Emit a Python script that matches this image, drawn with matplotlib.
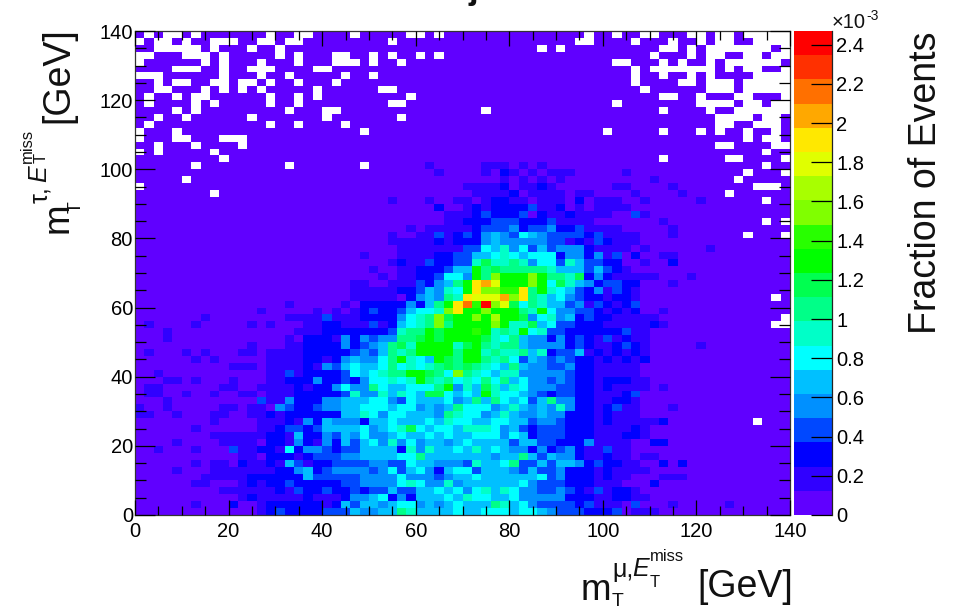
import numpy as np
import matplotlib
matplotlib.use('Agg')
import matplotlib.pyplot as plt
from matplotlib.colors import ListedColormap, BoundaryNorm

plt.rcParams['font.family'] = ['Liberation Sans', 'DejaVu Sans']

# colour band of every bin, top row (y=140) first, 0-9 then a-j, in groups of 10 bins
zero = '0000000000 ' * 7
band_rows = [zero] * 19 + [
    '0000000000 0000000000 0000000000 0100000111 0101000000 0000000000 0000000000',
    '0000000000 0000000000 0000000000 0010000102 1010111000 0010000000 0000000000',
    '0000000000 0000000000 0000000000 0000000001 0101010000 0000010000 0000000000',
    '0000000000 0000000000 0000000000 0000011112 0112100000 0110000100 0000000000',
    '0000000000 0000000000 0000000000 0000001111 2011110110 0001000010 0000000000',
    '0000000000 0000000000 0000000100 0100110122 1101110201 1100100000 1000000000',
    '0000000000 0000000000 0000000000 0020012122 2231120101 1110000000 0000000000',
    '0000000000 0000000000 0000000000 0001112322 2302112111 1003100000 0000000000',
    '0000000000 0000000000 0000000000 0001122233 3222311110 0000001000 0000000000',
    '0000000000 0000000000 0000000001 0111112333 4233422311 1100000100 0000000000',
    '0000000000 0000000000 0000000100 1131232454 3654333323 1111000100 0000000000',
    '0000000000 0000000000 0000000111 1121222454 4444331213 2111000000 0000000000',
    '0000000000 0000000000 0000000011 1111133657 4635344421 1110100000 0100000000',
    '0000000000 0000000000 0000100011 1122335567 6566624424 1302001100 0000000000',
    '0000000000 0000000000 0000000121 1322337977 8746637533 2200100200 0000000000',
    '0000000000 0000000000 0000010011 222355a898 8888755535 3210000000 0000000000',
    '0000000000 0000000000 0000001011 223664a8ca aaca887924 2111110001 0000000000',
    '0000000000 0000000000 0001100111 32458afgea aaca697542 3322000100 0000000000',
    '0000000000 0000000000 0001111122 35476afccb bf8a765324 1321000000 0000000000',
    '0000000000 0000000000 0001111102 45487feeeg cf87564322 1221000000 0000000000',
    '0000000000 0000001000 0010222224 258afhbjce 9687553413 2123000000 0000000000',
    '0000000000 0001000001 0101232235 667cfaacaa a87a644332 1212001000 0000000000',
    '0000000100 0000001111 3111222246 78c9aacada a946745232 2111110000 0000000000',
    '0100001000 0010100011 2211131256 78c8aaaaca 7795633222 1111121000 0000000000',
    '0001000000 0000000111 2222222378 8a9aaaba78 7a67332222 2231100000 0000000000',
    '0001000000 0000001022 2142434488 9a9aaaa976 8544242321 3121100000 0000000000',
    '0000000000 0010001122 2242345897 aaaa79a878 8544442321 1232100000 1000000000',
    '0100010100 0110111122 2223435878 aaaa8aa787 7857233512 1212100000 0000000000',
    '0000001010 0000111122 12454468a7 65a98aa878 6354343221 2121200000 0000000000',
    '0000000000 1110111121 4356556867 6789898765 8544334221 1111000000 0000000000',
    '0010000000 0000113122 223656788a a986c87657 7444443221 1111000000 0000000000',
    '0001101000 1000112224 2232466767 a878676868 5644343221 2221100000 0000000000',
    '0110000001 1001111212 2464486556 668a475975 7644433221 2111101000 0000000000',
    '0110010010 0110111222 2237447576 5996565a76 6543233221 1123000000 0000000000',
    '0001000000 0003114222 4455566436 5556458586 5635844221 1221000000 0000000000',
    '1001000001 1011043223 4455666566 4545866645 7545474221 2311000100 0000000000',
    '1100100011 0011212222 2255764665 5548766457 5445442221 2111000000 0000000000',
    '0000000010 0001112142 5444255655 5657665566 5534432221 2111112000 0000000000',
    '0000001000 0001123323 5555645679 6566577764 5323332221 1112100000 0000000000',
    '0000000011 1111221522 4354644565 5656556664 6523332221 1122100000 0000000000',
    '0000100001 1110221421 4253564746 4554565555 3553322241 1110022000 0000000000',
    '0010001000 3112216244 3233555527 4755657565 4424234211 3110000000 0000000000',
    '0000000000 0110222123 3344555566 8555555545 5853544211 2110110000 0000000000',
    '0000001011 0211215312 2333344336 5544437556 8335355423 2211002020 0000000000',
    '0000100011 1111122452 3444434635 6425663555 4353342221 2111100000 0000000000',
    '0000000111 1122222253 3333444464 4434556555 5556342221 2110001110 0000000000',
    '0000001100 0121223222 2233444467 6447455555 5643332221 1100020000 0000000000',
    '0000000001 1111121322 3223233533 5565646757 6443343213 1221000000 0000000000',
    '0000000000 0121111121 1124456242 5556576655 6444442221 1221100000 0000000000',
    '0000001000 2001222222 1253554566 4545655587 5643333231 1103000100 0001000000',
    '0000000000 0001232222 3335445587 5555655666 5665433322 2301110000 0000000000',
]

# bins without any entries, top row first
empty_bins = {
    0: [1, 3, 4, 6, 14, 17, 18, 23, 29, 30, 32, 48, 51, 54, 55, 59, 60, 62, 63, 65, 66, 67, 68, 69],
    1: [0, 2, 3, 5, 8, 9, 10, 13, 14, 16, 17, 27, 47, 48, 53, 57, 60, 62, 63, 66, 67, 68, 69],
    2: [2, 3, 4, 5, 6, 8, 12, 15, 43, 45, 56, 57, 59, 61, 62, 63, 64, 65, 66, 67, 69],
    3: [0, 1, 5, 6, 7, 9, 15, 17, 21, 22, 25, 27, 30, 32, 55, 59, 61, 62, 65, 66, 68, 69],
    4: [0, 7, 9, 13, 17, 21, 22, 23, 25, 28, 51, 52, 56, 58, 61, 63, 64, 65, 66, 67, 68],
    5: [4, 5, 6, 9, 12, 13, 14, 19, 20, 53, 55, 56, 57, 58, 59, 60, 61, 63, 65, 66, 69],
    6: [0, 1, 2, 9, 13, 16, 22, 25, 53, 56, 59, 61, 66, 67, 68, 69],
    7: [2, 4, 5, 8, 9, 11, 12, 14, 17, 21, 53, 58, 59, 61, 62, 63, 65, 66, 67, 68, 69],
    8: [2, 3, 7, 9, 11, 13, 19, 26, 27, 54, 61, 62, 63, 65, 66, 67, 68, 69],
    9: [1, 4, 6, 7, 14, 17, 19, 29, 56, 57, 60, 64, 65, 69],
    10: [1, 6, 8, 14, 17, 27, 28, 51, 60, 61, 62, 63, 65, 66, 68, 69],
    11: [4, 6, 16, 20, 21, 37, 56, 61, 64, 65, 66, 67, 68, 69],
    12: [2, 5, 12, 20, 28, 62, 63, 64, 65, 67, 68],
    13: [1, 14, 17, 22, 62, 63, 66, 67, 68],
    14: [0, 4, 24, 50, 56, 60, 62, 65, 68],
    15: [0, 4, 5, 9, 10, 11, 65, 67, 68],
    16: [2, 6, 11, 62, 63, 68, 69],
    17: [0, 2, 8, 67],
    18: [9, 56, 63, 64, 69],
    19: [6, 16, 24, 67],
    20: [65, 69],
    21: [5, 64],
    22: [0, 66, 67, 68],
    23: [8, 63],
    24: [67],
    27: [67, 69],
    29: [65, 69],
    38: [68],
    41: [69],
    42: [68, 69],
    56: [66],
}

x_edges = np.arange(0, 142, 2)
y_edges = np.arange(0, 142, 2)
band_colors = ['#6000ff', '#3000ff', '#0000ff', '#0048ff', '#0090ff', '#00c0ff', '#00ffff',
               '#00ffc8', '#00ff88', '#00ff50', '#00ff00', '#28ff00', '#80ff00', '#a8ff00',
               '#e0ff00', '#ffe800', '#ffa800', '#ff7000', '#ff3000', '#ff0000']
x_ticks = [0, 20, 40, 60, 80, 100, 120, 140]
y_ticks = [0, 20, 40, 60, 80, 100, 120, 140]
z_ticks = [0, 0.2, 0.4, 0.6, 0.8, 1, 1.2, 1.4, 1.6, 1.8, 2, 2.2, 2.4]
z_labels = ['0', '0.2', '0.4', '0.6', '0.8', '1', '1.2', '1.4', '1.6', '1.8', '2', '2.2', '2.4']
z_max = 2.47

W, H = 957, 607
band = z_max / len(band_colors)
bounds = np.linspace(0, z_max, len(band_colors) + 1)

values = np.zeros((70, 70))
for r, row in enumerate(band_rows):
    chars = row.replace(' ', '')
    values[69 - r] = [(int(c, 20) + 0.5) * band for c in chars]
masked = np.ma.array(values, mask=np.zeros_like(values, dtype=bool))
for r, cols in empty_bins.items():
    for c in cols:
        masked.mask[69 - r, c] = True

cmap = ListedColormap(band_colors)
cmap.set_bad('white')
norm = BoundaryNorm(bounds, cmap.N)


def px_axes(left, top, right, bottom):
    return fig.add_axes([left / W, 1 - bottom / H, (right - left) / W, (bottom - top) / H])


def px_text(x, y, s, size, **kw):
    kw.setdefault('ha', 'left')
    kw.setdefault('va', 'baseline')
    fig.text(x / W, 1 - y / H, s, fontsize=size, color='#111111', **kw)


fig = plt.figure(figsize=(W / 100, H / 100), dpi=100)
ax = px_axes(135, 31, 790, 515)
mesh = ax.pcolormesh(x_edges, y_edges, masked, cmap=cmap, norm=norm)
ax.set_xlim(0, 140)
ax.set_ylim(0, 140)
ax.set_axisbelow(False)
ax.set_xticks(x_ticks)
ax.set_yticks(y_ticks)
ax.set_xticks(np.arange(0, 141, 5), minor=True)
ax.set_yticks(np.arange(0, 141, 5), minor=True)
ax.tick_params(axis='x', which='major', direction='in', top=True, length=11, width=0.9, labelsize=14.5, pad=5)
ax.tick_params(axis='x', which='minor', direction='in', top=True, length=6.2, width=0.9)
ax.tick_params(axis='y', which='major', direction='in', right=True, length=14.5, width=0.9, labelsize=14.5, pad=1.5)
ax.tick_params(axis='y', which='minor', direction='in', right=True, length=8, width=0.9)
for s in ax.spines.values():
    s.set_linewidth(0.9)
    s.set_color('#333333')

cax = px_axes(794, 31, 832, 515)
cbar = fig.colorbar(mesh, cax=cax, spacing='proportional', ticks=z_ticks)
cbar.ax.set_yticklabels(z_labels)
cbar.ax.tick_params(axis='y', direction='in', length=15, width=0.9, labelsize=14.5, pad=3, right=True)
cbar.ax.minorticks_off()
cbar.outline.set_linewidth(0)
cax.plot([1, 1], [0, 1], transform=cax.transAxes, color='#222222', lw=0.9, clip_on=False)

# the title is cut off by the top edge in the reference, only this part can be read
px_text(468, -1, 'jets', 25, weight='bold')

# colour scale exponent and axis titles
px_text(832, 28, '\u00d710', 14.5)
px_text(866, 20, '-3', 10)
px_text(936, 183, 'Fraction of Events', 27, rotation=90, ha='center', rotation_mode='anchor')

px_text(581, 600, 'm', 26.5)
px_text(612, 606, 'T', 14)
px_text(612, 577, '\u03bc,', 18)
px_text(632, 576, 'E', 18, style='italic')
px_text(650, 587, 'T', 12)
px_text(650, 561, 'miss', 12)
px_text(697, 597, '[GeV]', 27)

px_text(68, 233, 'm', 26.5, rotation=90, rotation_mode='anchor')
px_text(81, 213, 'T', 14, rotation=90, rotation_mode='anchor')
px_text(47, 203, '\u03c4,', 18, rotation=90, rotation_mode='anchor')
px_text(46, 182, 'E', 18, style='italic', rotation=90, rotation_mode='anchor')
px_text(46, 163, 'T', 12, rotation=90, rotation_mode='anchor')
px_text(32, 163, 'miss', 12, rotation=90, rotation_mode='anchor')
px_text(68, 123, '[GeV]', 27, rotation=90, rotation_mode='anchor')

fig.savefig('out.png', dpi=100)
